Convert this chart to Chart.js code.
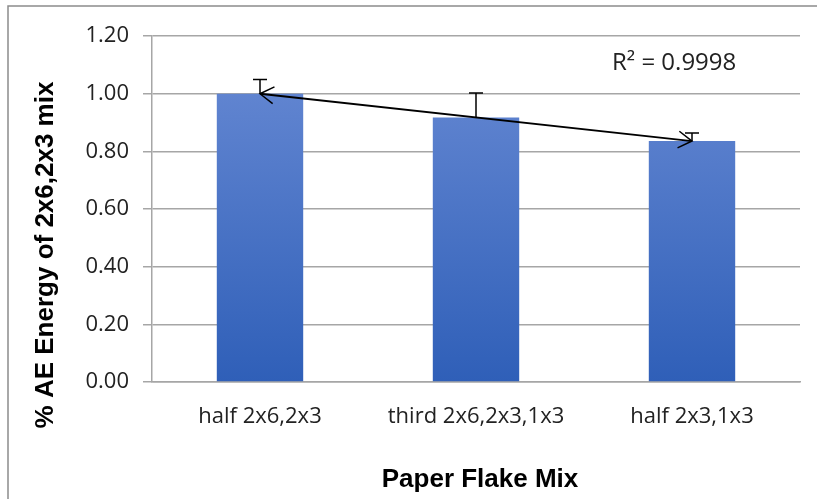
<!DOCTYPE html>
<html>
<head>
<meta charset="utf-8">
<script src="https://cdn.jsdelivr.net/npm/chart.js@4/dist/chart.umd.min.js"></script>
<style>
    html, body { margin: 0; padding: 0; background: #ffffff; }
    #wrap { width: 817px; height: 499px; position: relative; }
</style>
</head>
<body>
<div id="wrap"><canvas id="barChart" width="817" height="499"></canvas></div>
<script>
var categorias = ['half 2x6,2x3', 'third 2x6,2x3,1x3', 'half 2x3,1x3'];
var valores = [1.00, 0.917, 0.836];
var errores = [0.049, 0.085, 0.028];
var ticksY = [0, 0.2, 0.4, 0.6, 0.8, 1.0, 1.2];
var textoR2 = 'R² = 0.9998';

// recta de tendencia por minimos cuadrados sobre los indices de categoria
function tendencia(ys) {
    var n = ys.length, sx = 0, sy = 0, sxy = 0, sxx = 0;
    for (var i = 0; i < n; i++) {
        sx += i; sy += ys[i]; sxy += i * ys[i]; sxx += i * i;
    }
    var m = (n * sxy - sx * sy) / (n * sxx - sx * sx);
    var b = (sy - m * sx) / n;
    return { m: m, b: b };
}

function flecha(ctx, x1, y1, x2, y2) {
    // punta abierta en (x2, y2)
    var ang = Math.atan2(y2 - y1, x2 - x1);
    var largo = 16, abre = 0.55;
    ctx.beginPath();
    ctx.moveTo(x2 - largo * Math.cos(ang - abre), y2 - largo * Math.sin(ang - abre));
    ctx.lineTo(x2, y2);
    ctx.lineTo(x2 - largo * Math.cos(ang + abre), y2 - largo * Math.sin(ang + abre));
    ctx.stroke();
}

var extras = {
    id: 'extras',
    afterDatasetsDraw: function (chart) {
        var ctx = chart.ctx;
        var x = chart.scales.x, y = chart.scales.y;
        ctx.save();

        // barras de error (solo hacia arriba)
        ctx.strokeStyle = '#000000';
        ctx.lineWidth = 1.5;
        for (var i = 0; i < valores.length; i++) {
            var cx = x.getPixelForValue(i);
            var y0 = y.getPixelForValue(valores[i]);
            var y1 = y.getPixelForValue(valores[i] + errores[i]);
            ctx.beginPath();
            ctx.moveTo(cx, y0);
            ctx.lineTo(cx, y1);
            ctx.moveTo(cx - 7, y1);
            ctx.lineTo(cx + 7, y1);
            ctx.stroke();
        }

        // linea de tendencia con flechas
        var t = tendencia(valores);
        var ult = valores.length - 1;
        var ax = x.getPixelForValue(0), ay = y.getPixelForValue(t.b);
        var bx = x.getPixelForValue(ult), by = y.getPixelForValue(t.b + t.m * ult);
        ctx.lineWidth = 1.8;
        ctx.beginPath();
        ctx.moveTo(ax, ay);
        ctx.lineTo(bx, by);
        ctx.stroke();
        ctx.lineWidth = 1.5;
        flecha(ctx, bx, by, ax, ay);
        flecha(ctx, ax, ay, bx, by);

        // R cuadrado
        ctx.fillStyle = '#222222';
        ctx.font = '24px "Open Sans", "Liberation Sans", sans-serif';
        ctx.textAlign = 'left';
        ctx.textBaseline = 'middle';
        ctx.fillText(textoR2, 612, 63);

        // titulos de ejes
        ctx.fillStyle = '#000000';
        ctx.font = 'bold 26px "Liberation Sans", Arial, sans-serif';
        ctx.textAlign = 'center';
        ctx.fillText('Paper Flake Mix', 480, 480);
        ctx.translate(46, 255);
        ctx.rotate(-Math.PI / 2);
        ctx.fillText('% AE Energy of 2x6,2x3 mix', 0, 0);
        ctx.restore();

        // marco exterior
        ctx.save();
        ctx.strokeStyle = '#8c8c8c';
        ctx.lineWidth = 1.5;
        ctx.beginPath();
        ctx.moveTo(8, 499);
        ctx.lineTo(8, 6);
        ctx.lineTo(817, 6);
        ctx.stroke();
        ctx.restore();
    }
};

var ctx = document.getElementById('barChart').getContext('2d');

function degradado(context) {
    var area = context.chart.chartArea;
    if (!area) return '#4a72c4';
    var ys = context.chart.scales.y;
    var g = ctx.createLinearGradient(0, ys.getPixelForValue(1.0), 0, ys.getPixelForValue(0));
    g.addColorStop(0, '#6084d0');
    g.addColorStop(1, '#2f5fb8');
    return g;
}

var myChart = new Chart(ctx, {
    type: 'bar',
    data: {
        labels: categorias,
        datasets: [{
            label: 'AE',
            data: valores,
            backgroundColor: degradado,
            borderWidth: 0,
            categoryPercentage: 0.8,
            barPercentage: 0.5
        }]
    },
    options: {
        responsive: false,
        animation: false,
        layout: { padding: { top: 36, right: 17, left: 0, bottom: 0 } },
        plugins: {
            legend: { display: false },
            tooltip: { enabled: false }
        },
        scales: {
            x: {
                grid: { display: false, drawTicks: false },
                border: { color: '#a6a6a6', width: 1.5 },
                ticks: {
                    color: '#222222',
                    padding: 22,
                    maxRotation: 0,
                    font: { family: '"Open Sans", "Liberation Sans", sans-serif', size: 22 }
                },
                afterFit: function (scale) { scale.height = 117; }
            },
            y: {
                min: 0,
                max: 1.2,
                afterBuildTicks: function (scale) {
                    scale.ticks = ticksY.map(function (v) { return { value: v }; });
                },
                grid: { color: '#a6a6a6', lineWidth: 1.5, tickLength: 9 },
                border: { color: '#a6a6a6', width: 1.5 },
                ticks: {
                    color: '#222222',
                    padding: 14,
                    font: { family: '"Open Sans", "Liberation Sans", sans-serif', size: 22 },
                    callback: function (v) { return v.toFixed(2); }
                },
                afterFit: function (scale) { scale.width = 152; }
            }
        }
    },
    plugins: [extras]
});
</script>
</body>
</html>
